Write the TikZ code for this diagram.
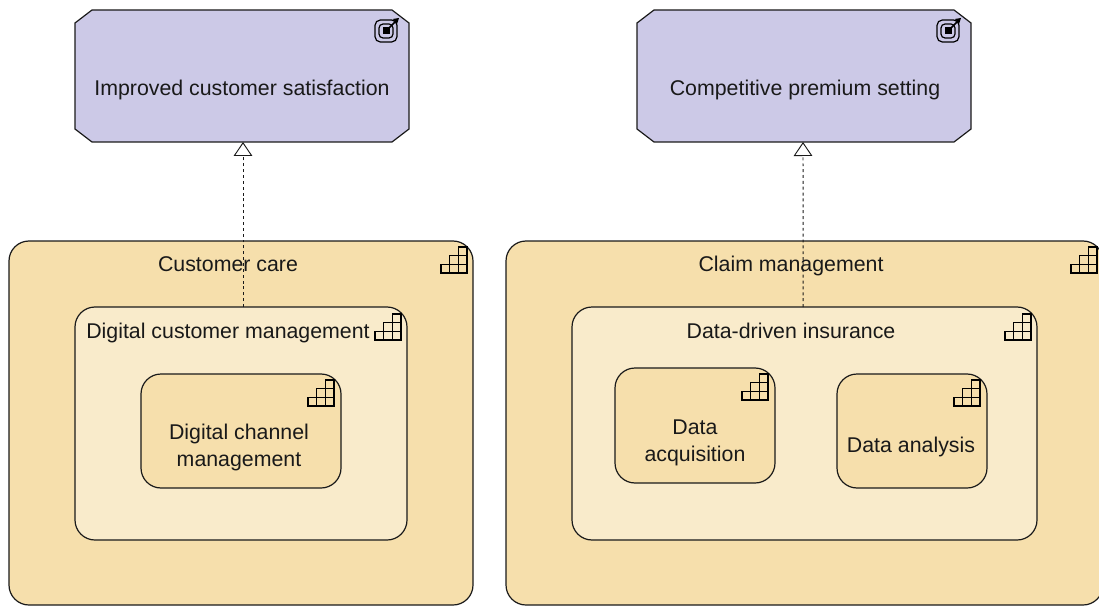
\documentclass[tikz,border=0pt]{standalone}
\usepackage{fontspec}
\setmainfont{Liberation Sans}
\usetikzlibrary{arrows.meta}
\definecolor{goalfill}{HTML}{CCC9E7}
\definecolor{outerfill}{HTML}{F6DFAC}
\definecolor{innerfill}{HTML}{F9EBCB}
\definecolor{linecol}{HTML}{1A1A1A}
\tikzset{
  x=0.75pt,y=-0.75pt,
  goalbox/.style={rectangle,inner sep=0pt,outer sep=0pt,minimum width=250.5pt,minimum height=99pt},
  goaloutline/.style={draw=linecol,fill=goalfill,line width=0.9pt},
  capbox/.style={rectangle,rounded corners=15pt,draw=linecol,line width=0.9pt,inner sep=0pt,outer sep=0pt},
  outerbox/.style={capbox,fill=outerfill},
  innerbox/.style={capbox,fill=innerfill},
  lbl/.style={font=\fontsize{16}{20.25}\selectfont,align=center,text=black!90,inner sep=0pt},
  realizes/.style={draw=linecol,line width=0.7pt,dash pattern=on 2.2pt off 2.2pt,-{Triangle[open,fill=white,length=10.5pt,width=14pt,line width=0.7pt,sep=0pt]}},
  stair/.pic={
    \draw[line width=1pt,black]
      (-26,0) rectangle (0,-8.67)
      (-17.33,-8.67) rectangle (0,-17.33)
      (-8.67,-17.33) rectangle (0,-26)
      (-17.33,0) -- (-17.33,-8.67)
      (-8.67,0) -- (-8.67,-17.33);
  },
  target/.pic={
    \draw[line width=0.9pt,black,rounded corners=4pt] (-11,-11) rectangle (11,11);
    \draw[line width=0.9pt,black,rounded corners=3pt] (-7,-7) rectangle (7,7);
    \fill[black] (-3.5,-3.5) rectangle (3.5,3.5);
    \draw[line width=1.3pt,black] (0,0) -- (9,-9);
    \fill[black] (7,-12) -- (13,-13) -- (11,-7) -- cycle;
  }
}
\newcommand\goalshape[1]{%
  \draw[goaloutline] ([xshift=12.75pt]#1.north west) -- ([xshift=-12.75pt]#1.north east)
    -- ([yshift=-9.75pt]#1.north east) -- ([yshift=9.75pt]#1.south east)
    -- ([xshift=-12.75pt]#1.south east) -- ([xshift=12.75pt]#1.south west)
    -- ([yshift=9.75pt]#1.south west) -- ([yshift=-9.75pt]#1.north west) -- cycle;}
\begin{document}
\begin{tikzpicture}
\useasboundingbox (0,0) rectangle (1099,606);
\clip (0,0) rectangle (1099,606);
% goals
\node[goalbox] (goalA) at (242,76) {};
\node[goalbox] (goalB) at (804,76) {};
\goalshape{goalA}
\goalshape{goalB}
% outer capabilities
\node[outerbox,minimum width=348pt,minimum height=273pt] (care) at (241,423) {};
\node[outerbox,minimum width=447.75pt,minimum height=273pt] (claim) at (804.5,423) {};
% middle capabilities
\node[innerbox,minimum width=249pt,minimum height=174.75pt] (dcm) at (241,423.5) {};
\node[innerbox,minimum width=348.75pt,minimum height=174.75pt] (ddi) at (804.5,423.5) {};
% inner capabilities
\node[outerbox,minimum width=150pt,minimum height=85.5pt] (dch) at (241,431) {};
\node[outerbox,minimum width=120pt,minimum height=86.25pt] (daq) at (695,425.5) {};
\node[outerbox,minimum width=112.5pt,minimum height=85.5pt] (dan) at (912,431) {};
% icons
\path (goalA.north east) ++(-23,21) pic {target};
\path (goalB.north east) ++(-23,21) pic {target};
\path (care.north east) ++(-6,32) pic {stair};
\path (claim.north east) ++(-6,32) pic {stair};
\path (dcm.north east) ++(-6,33) pic {stair};
\path (ddi.north east) ++(-6,33) pic {stair};
\path (dch.north east) ++(-7,32) pic {stair};
\path (daq.north east) ++(-7,32) pic {stair};
\path (dan.north east) ++(-7,32) pic {stair};
% labels
\node[lbl] (tA) at (242,90) {Improved customer satisfaction};
\node[lbl] (tB) at (805,90) {Competitive premium setting};
\node[lbl] (tcare) at (228,264) {Customer care};
\node[lbl] (tclaim) at (791,266) {Claim management};
\node[lbl] (tdcm) at (228,333) {Digital customer management};
\node[lbl] (tddi) at (791,331) {Data-driven insurance};
\node[lbl] (tdch) at (239,447) {Digital channel\\management};
\node[lbl] (tdaq) at (695,442.5) {Data\\acquisition};
\node[lbl] (tdan) at (911,447) {Data analysis};
% realization connectors
\draw[realizes] ([xshift=1.5pt]dcm.north) -- ([xshift=0.75pt]goalA.south);
\draw[realizes] ([xshift=-1pt]ddi.north) -- ([xshift=-0.75pt]goalB.south);
\end{tikzpicture}
\end{document}
